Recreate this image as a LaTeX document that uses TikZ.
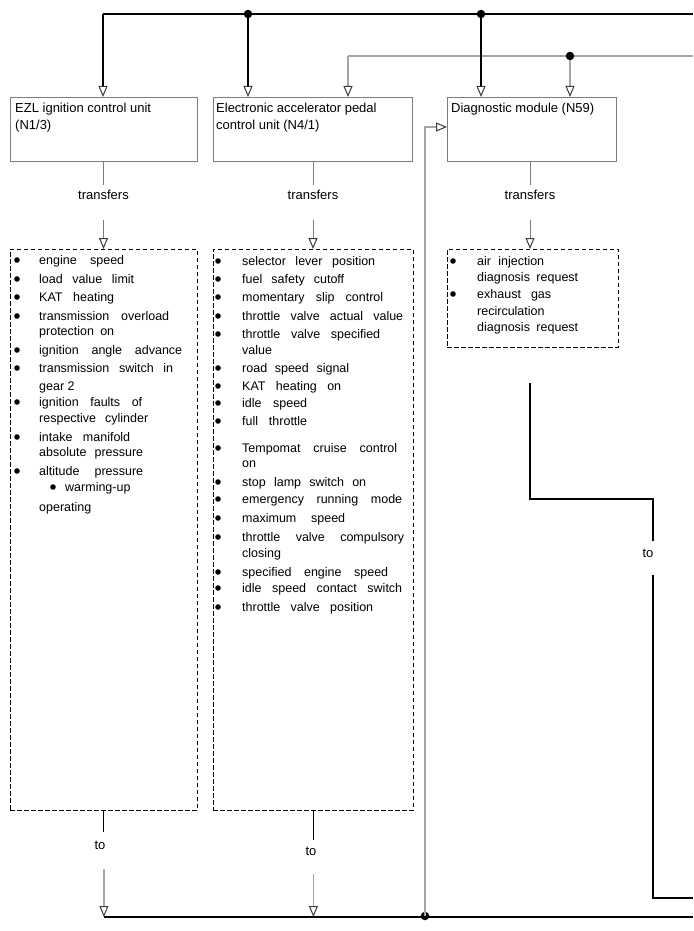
\documentclass[tikz,border=0pt]{standalone}
\usepackage{fontspec}
\setmainfont{Liberation Sans}
\usetikzlibrary{arrows.meta,calc}
\definecolor{linegray}{RGB}{165,165,165}
\definecolor{boxgray}{RGB}{125,125,125}
\definecolor{tipgray}{RGB}{60,60,60}
\newcommand\spr[2]{\makebox[#1pt][s]{#2}}
\begin{document}
\begin{tikzpicture}[x=1pt,y=-1pt,
  blk/.style={draw=black,line width=1.1pt},
  gry/.style={draw=linegray,line width=1.5pt},
  thn/.style={draw=boxgray,line width=0.9pt},
  thb/.style={draw=black,line width=0.9pt},
  tip/.style={-{Triangle[open,length=11pt,width=9pt,line width=1pt,color=tipgray]}},
  ubox/.style={draw=boxgray,line width=0.9pt,minimum height=64pt,inner sep=0,anchor=north west},
  dbox/.style={draw=black,dash pattern=on 4.5pt off 2.5pt,line width=0.8pt,inner sep=0,anchor=north west},
  ttl/.style={anchor=base west,inner sep=0,font=\fontsize{13}{15}\selectfont},
  itm/.style={anchor=base west,inner sep=0,font=\fontsize{12.5}{15}\selectfont},
  lbl/.style={anchor=base,inner sep=0,font=\fontsize{13}{15}\selectfont},
  jdot/.style={circle,fill=black,inner sep=0,minimum size=8.5pt}
]
\useasboundingbox (0,0) rectangle (693,931);

% ---------- boxes ----------
\node[ubox,minimum width=187pt] (b1) at (10,97) {};
\node[ubox,minimum width=199pt] (b2) at (213,97) {};
\node[ubox,minimum width=169pt] (b3) at (447,97) {};
\node[dbox,minimum width=187pt,minimum height=561pt] (d1) at (10,249) {};
\node[dbox,minimum width=200pt,minimum height=561pt] (d2) at (213,249) {};
\node[dbox,minimum width=171pt,minimum height=98pt] (d3) at (447,249) {};

% ---------- titles ----------
\node[ttl] (t1a) at (15,113) {EZL ignition control unit};
\node[ttl] (t1b) at (15,129) {(N1/3)};
\node[ttl] (t2a) at (216,113) {Electronic accelerator pedal};
\node[ttl] (t2b) at (216,129) {control unit (N4/1)};
\node[ttl] (t3a) at (451,113) {Diagnostic module (N59)};

% ---------- top feeds ----------
\coordinate (t0) at (103,14);
\coordinate (tr) at (693,14);
\coordinate (g0) at (348,56);
\coordinate (gr) at (693,56);
\draw[blk] (t0) -- (tr);
\draw[gry] (g0) -- (gr);
\node[jdot] (j1) at (248,14) {};
\node[jdot] (j2) at (481,14) {};
\node[jdot] (j3) at (570,56) {};
\draw[blk,tip] (t0) -- (t0 |- b1.north);
\draw[blk,tip] (j1) -- (j1 |- b2.north);
\draw[gry,tip] (g0) -- (g0 |- b2.north);
\draw[blk,tip] (j2) -- (j2 |- b3.north);
\draw[gry,tip] (j3) -- (j3 |- b3.north);

% ---------- transfers ----------
\node[lbl] (tr1) at (103.5,199.5) {transfers};
\node[lbl] (tr2) at (313,199.5) {transfers};
\node[lbl] (tr3) at (530,199.5) {transfers};
\foreach \t/\b/\d in {tr1/b1/d1,tr2/b2/d2,tr3/b3/d3}{
  \draw[thn] (\t.base |- \b.south) -- ($(\t.base)+(0,-14.5)$);
  \draw[thn,tip] ($(\t.base)+(0,20.5)$) -- (\t.base |- \d.north);
}

% ---------- box 1 items ----------
\node[itm] (a1) at (39,264.5) {\spr{85}{engine speed}};
\node[itm] (a2) at (39,283.5) {\spr{95}{load value limit}};
\node[itm] (a3) at (39,301.5) {\spr{75}{KAT heating}};
\node[itm] (a4) at (39,320.5) {\spr{130}{transmission overload}};
\node[itm] (a5) at (39,335.5) {\spr{75}{protection on}};
\node[itm] (a6) at (39,354.5) {\spr{143}{ignition angle advance}};
\node[itm] (a7) at (39,372.5) {\spr{134}{transmission switch in}};
\node[itm] (a8) at (39,390.5) {gear 2};
\node[itm] (a9) at (39,406.5) {\spr{103}{ignition faults of}};
\node[itm] (a10) at (39,422.5) {\spr{109}{respective cylinder}};
\node[itm] (a11) at (39,441.5) {\spr{91}{intake manifold}};
\node[itm] (a12) at (39,456.5) {\spr{104}{absolute pressure}};
\node[itm] (a13) at (39,475.5) {\spr{104}{altitude pressure}};
\node[itm] (a14) at (65,491.5) {warming-up};
\node[itm] (a15) at (39,511.5) {operating};
\foreach \y in {260,279,297,316,350,368,402,437,471}{\fill (17,\y) circle (2.8pt);}
\fill (53,487) circle (2.8pt);

% ---------- box 2 items ----------
\node[itm] (c1) at (242,265.5) {\spr{133}{selector lever position}};
\node[itm] (c2) at (242,283.5) {\spr{102}{fuel safety cutoff}};
\node[itm] (c3) at (242,301.5) {\spr{141}{momentary slip control}};
\node[itm] (c4) at (242,320.5) {\spr{161}{throttle valve actual value}};
\node[itm] (c5) at (242,338.5) {\spr{138}{throttle valve specified}};
\node[itm] (c6) at (242,354.5) {value};
\node[itm] (c7) at (242,372.5) {\spr{107}{road speed signal}};
\node[itm] (c8) at (242,390.5) {\spr{99}{KAT heating on}};
\node[itm] (c9) at (242,407.5) {\spr{65}{idle speed}};
\node[itm] (c10) at (242,425.5) {\spr{65}{full throttle}};
\node[itm] (c11) at (242,452.5) {\spr{155}{Tempomat cruise control}};
\node[itm] (c12) at (242,467.5) {on};
\node[itm] (c13) at (242,486.5) {\spr{124}{stop lamp switch on}};
\node[itm] (c14) at (242,503.5) {\spr{160}{emergency running mode}};
\node[itm] (c15) at (242,522.5) {\spr{103}{maximum speed}};
\node[itm] (c16) at (242,541.5) {\spr{162}{throttle valve compulsory}};
\node[itm] (c17) at (242,557.5) {closing};
\node[itm] (c18) at (242,576.5) {\spr{146}{specified engine speed}};
\node[itm] (c19) at (242,592.5) {\spr{160}{idle speed contact switch}};
\node[itm] (c20) at (242,611.5) {\spr{131}{throttle valve position}};
\foreach \y in {261,279,297,316,334,368,386,403,421,448,482,499,518,537,572,588,607}{\fill (218,\y) circle (2.8pt);}

% ---------- box 3 items ----------
\node[itm] (e1) at (477,265.5) {\spr{67}{air injection}};
\node[itm] (e2) at (477,281.5) {\spr{101}{diagnosis request}};
\node[itm] (e3) at (477,298.5) {\spr{74}{exhaust gas}};
\node[itm] (e4) at (477,315.5) {recirculation};
\node[itm] (e5) at (477,331.5) {\spr{101}{diagnosis request}};
\fill (453,261) circle (2.8pt);
\fill (453,294) circle (2.8pt);

% ---------- bottom ----------
\coordinate (bl) at (103.5,917);
\coordinate (br) at (693,917);
\draw[blk] (bl) -- (br);
\node[lbl] (to1) at (100,849.5) {to};
\node[lbl] (to2) at (311,855.5) {to};
\draw[thb] (d1.south) -- ($(d1.south |- to1.base)+(0,-17.5)$);
\draw[gry,line width=1.2pt,tip] ($(d1.south |- to1.base)+(0,19.5)$) -- (d1.south |- bl);
\draw[thb] (d2.south) -- ($(d2.south |- to2.base)+(0,-15.5)$);
\draw[gry,line width=1.2pt,tip] ($(d2.south |- to2.base)+(0,18.5)$) -- (d2.south |- bl);

% gray feedback to diagnostic module
\node[jdot] (j4) at (425,916) {};
\draw[gry,tip] (j4.center) |- ($(b3.north west)+(0,30)$);

% right-hand path
\coordinate (r1) at (530,383);
\coordinate (r2) at (653,499);
\coordinate (r4) at (693,898);
\node[lbl] (to3) at (648,557.5) {to};
\draw[blk] (r1) |- (r2) -- ($(r2 |- to3.base)+(0,-16.5)$);
\draw[blk] ($(r2 |- to3.base)+(0,17.5)$) |- (r4);
\end{tikzpicture}
\end{document}
